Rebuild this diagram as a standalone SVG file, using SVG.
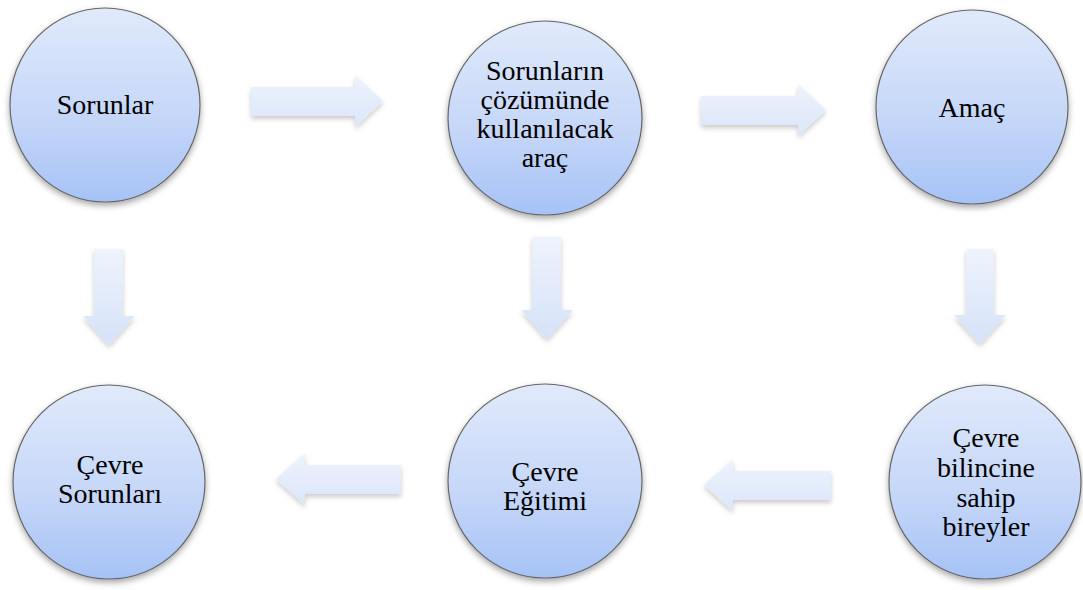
<svg xmlns="http://www.w3.org/2000/svg" width="1083" height="590" viewBox="0 0 1083 590">
<defs>
<linearGradient id="cg" x1="0" y1="0" x2="0" y2="1">
<stop offset="0" stop-color="#e1eafb"/>
<stop offset="0.6" stop-color="#c3d5f8"/>
<stop offset="1" stop-color="#a6c2f6"/>
</linearGradient>
<linearGradient id="ag" x1="0" y1="0" x2="0" y2="1">
<stop offset="0" stop-color="#eef3fd"/>
<stop offset="1" stop-color="#dbe6fa"/>
</linearGradient>
<linearGradient id="agv" x1="0" y1="0" x2="0" y2="1">
<stop offset="0" stop-color="#eef3fd"/>
<stop offset="1" stop-color="#d6e2f9"/>
</linearGradient>
<filter id="sh" x="-20%" y="-20%" width="140%" height="140%">
<feDropShadow dx="0" dy="3" stdDeviation="3" flood-color="#000" flood-opacity="0.35"/>
</filter>
<filter id="ash" x="-20%" y="-20%" width="140%" height="150%">
<feDropShadow dx="0" dy="3" stdDeviation="2.5" flood-color="#000" flood-opacity="0.2"/>
</filter>
</defs>
<style>
.c{fill:url(#cg);stroke:#666;stroke-width:1.2;filter:url(#sh)}
.a{fill:url(#ag);filter:url(#ash)}
.av{fill:url(#agv);filter:url(#ash)}
.t{font-family:Tinos,"Liberation Serif","Times New Roman",Times,"DejaVu Serif","Noto Serif",serif;font-size:28px;fill:#000;text-anchor:middle}
</style>
<rect width="1083" height="590" fill="#fff"/>
<g id="connectors">
<path class="a" d="M251,87 H355 V75 L383,101 L355,127 V116 H251 Z"/>
<path class="a" d="M701,96 H798 V84 L826,110 L798,136 V125 H701 Z"/>
<path class="av" d="M94,249 H123 V316 H135 L109,345 L83,316 H94 Z"/>
<path class="av" d="M532,237 H561 V310 H573 L547,339 L521,310 H532 Z"/>
<path class="av" d="M966,249 H994 V315 H1006 L980,344 L954,315 H966 Z"/>
<path class="a" d="M401,465 H305 V453 L276,479 L305,505 V494 H401 Z"/>
<path class="a" d="M831,471 H733 V459 L704,485 L733,511 V500 H831 Z"/>
</g>
<g id="n1">
<ellipse class="c" cx="105" cy="105" rx="95" ry="97"/>
<text class="t" x="105" y="114">Sorunlar</text>
</g>
<g id="n2">
<ellipse class="c" cx="545" cy="118" rx="97" ry="97"/>
<text class="t" x="545" y="80">Sorunların</text>
<text class="t" x="545" y="109">çözümünde</text>
<text class="t" x="545" y="138">kullanılacak</text>
<text class="t" x="545" y="167">araç</text>
</g>
<g id="n3">
<ellipse class="c" cx="972" cy="107" rx="96" ry="97"/>
<text class="t" x="972" y="117">Amaç</text>
</g>
<g id="n4">
<ellipse class="c" cx="109" cy="482" rx="96" ry="97"/>
<text class="t" x="110" y="474">Çevre</text>
<text class="t" x="110" y="503">Sorunları</text>
</g>
<g id="n5">
<ellipse class="c" cx="545" cy="481" rx="97" ry="97"/>
<text class="t" x="545" y="481">Çevre</text>
<text class="t" x="545" y="510">Eğitimi</text>
</g>
<g id="n6">
<ellipse class="c" cx="985" cy="482" rx="96" ry="97"/>
<text class="t" x="986" y="447">Çevre</text>
<text class="t" x="986" y="477">bilincine</text>
<text class="t" x="986" y="507">sahip</text>
<text class="t" x="986" y="536">bireyler</text>
</g>
</svg>
